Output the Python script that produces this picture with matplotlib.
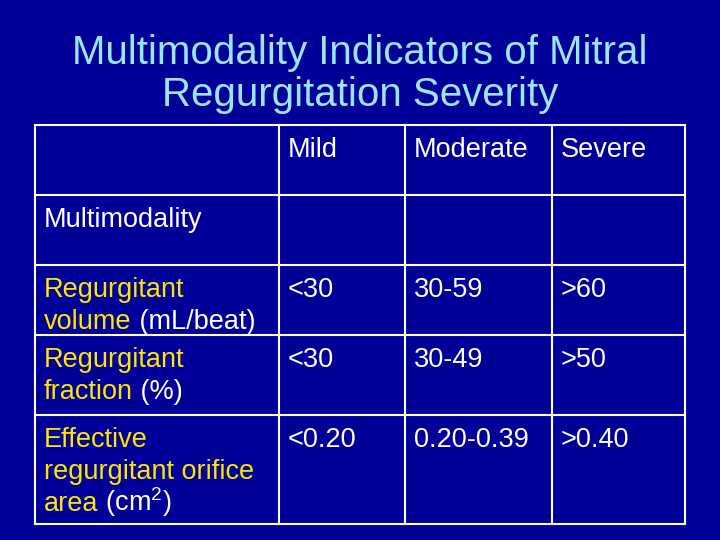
import matplotlib
matplotlib.use("Agg")
import matplotlib.pyplot as plt

title = "Multimodality Indicators of Mitral\nRegurgitation Severity"
columns = ["", "Mild", "Moderate", "Severe"]
row_labels = [
    [("Multimodality", "w")],
    [("Regurgitant\nvolume", "y"), (" (mL/beat)", "w")],
    [("Regurgitant\nfraction", "y"), (" (%)", "w")],
    [("Effective\nregurgitant orifice\narea", "y"), (" (cm$^2$)", "w")],
]
mild = ["", "<30", "<30", "<0.20"]
moderate = ["", "30-59", "30-49", "0.20-0.39"]
severe = ["", ">60", ">50", ">0.40"]

BG = "#000099"
TITLE = "#99E6FF"
YEL = "#FFE600"
W = "white"
plt.rcParams["font.family"] = "Liberation Sans"
plt.rcParams["mathtext.fontset"] = "custom"
plt.rcParams["mathtext.rm"] = "Liberation Sans"

fig = plt.figure(figsize=(7.2, 5.4), dpi=100)
fig.patch.set_facecolor(BG)
ax = fig.add_axes([0, 0, 1, 1])
ax.set_xlim(0, 720); ax.set_ylim(540, 0); ax.axis("off")

ax.text(360, 74, title, color=TITLE, fontsize=29, ha="center", va="center", linespacing=1.12)

xs = [35, 279, 405, 552, 685]
ys = [125, 195, 265, 335, 415, 524]
for x in xs:
    ax.plot([x, x], [ys[0], ys[-1]], color=W, lw=1.5)
for y in ys:
    ax.plot([xs[0], xs[-1]], [y, y], color=W, lw=1.5)

fs = 19.5
base = 32
for j, c in enumerate(columns):
    ax.text(xs[j] + 9, ys[0] + base, c, color=W, fontsize=fs, va="baseline")

lh = 32
fig.canvas.draw()
r = fig.canvas.get_renderer()
for i, parts in enumerate(row_labels):
    y0 = ys[i + 1] + base
    lines = []
    for txt, col in parts:
        segs = txt.split("\n")
        for k, s in enumerate(segs):
            if k == 0 and lines:
                lines[-1].append((s, col))
            else:
                lines.append([(s, col)])
    for li, line in enumerate(lines):
        x = xs[0] + 9
        for s, col in line:
            t = ax.text(x, y0 + li * lh, s, color=(YEL if col == "y" else W), fontsize=fs, va="baseline")
            x += t.get_window_extent(renderer=r).width
    for j, vals in enumerate([mild, moderate, severe]):
        ax.text(xs[j + 1] + 9, y0, vals[i], color=W, fontsize=fs, va="baseline")

fig.savefig("out.png", dpi=100, facecolor=BG)
